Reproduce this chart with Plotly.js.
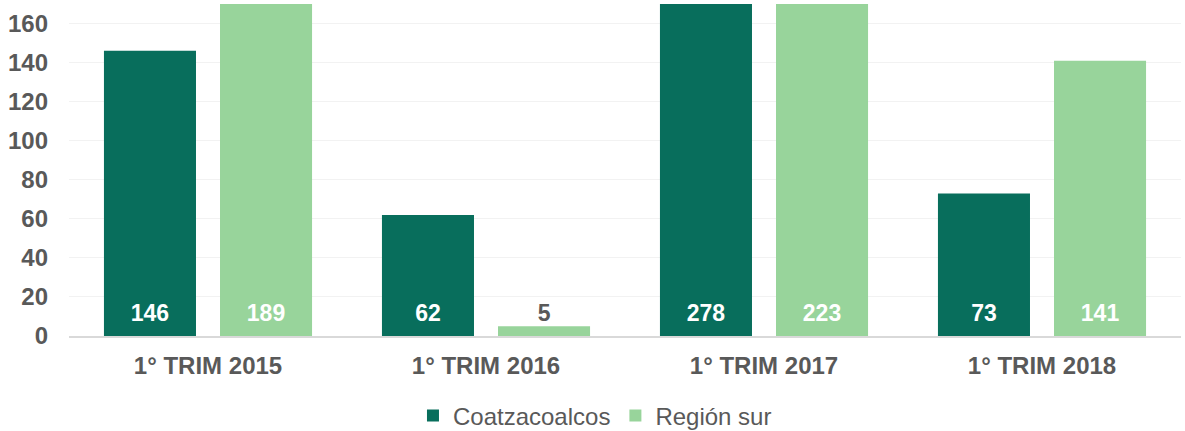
<!DOCTYPE html>
<html>
<head>
<meta charset="utf-8">
<script src="https://cdn.plot.ly/plotly-3.0.1.min.js"></script>
<style>html,body{margin:0;padding:0;background:#fff;}#chart{width:1185px;height:431px;}</style>
</head>
<body>
<div id="chart"></div>
<script>
const categories = ["1° TRIM 2015", "1° TRIM 2016", "1° TRIM 2017", "1° TRIM 2018"];
const coatzacoalcos = [146, 62, 278, 73];
const regionSur = [189, 5, 223, 141];
const yTicks = [0, 20, 40, 60, 80, 100, 120, 140, 160];

const yMax = 170;
const FONT = "Liberation Sans, Arial, sans-serif";
const DARK = "#086E5C", LIGHT = "#98D49B";

function barTrace(name, vals, color) {
  return {type: "bar", name: name, x: categories, y: vals, marker: {color: color},
          hoverinfo: "skip", offsetgroup: name, cliponaxis: true};
}
function labelTrace(name, vals) {
  return {type: "scatter", mode: "markers+text", name: name + " labels", showlegend: false,
          x: categories, y: vals.map(() => 0), offsetgroup: name,
          text: vals.map(String), textposition: "top center",
          marker: {size: 14, color: "rgba(0,0,0,0)"},
          textfont: {family: FONT, size: 23, weight: "bold",
                     color: vals.map(v => v < 20 ? "#595959" : "#FFFFFF")},
          cliponaxis: false, hoverinfo: "skip"};
}

const data = [
  barTrace("Coatzacoalcos", coatzacoalcos, DARK),
  barTrace("Región sur", regionSur, LIGHT),
  labelTrace("Coatzacoalcos", coatzacoalcos),
  labelTrace("Región sur", regionSur)
];

const layout = {
  width: 1185, height: 431,
  margin: {l: 69, r: 4, t: 4, b: 95, autoexpand: false},
  paper_bgcolor: "#FFFFFF", plot_bgcolor: "#FFFFFF",
  barmode: "group",
  bargap: 0.165,
  bargroupgap: 0.207,
  scattermode: "group",
  scattergap: 0.165,
  font: {family: FONT, color: "#595959"},
  xaxis: {
    type: "category",
    tickfont: {size: 24, color: "#595959", weight: "bold"},
    showgrid: false, showline: true, linecolor: "#D9D9D9", linewidth: 2,
    ticks: "", ticklabelstandoff: 7, automargin: false
  },
  yaxis: {
    range: [0, yMax],
    tickvals: yTicks,
    ticktext: yTicks.map(String),
    tickfont: {size: 24, color: "#595959", weight: "bold"},
    showgrid: true, gridcolor: "#F2F2F2", gridwidth: 1,
    zeroline: false, showline: false, ticks: "", ticklabelstandoff: 20, automargin: false
  },
  showlegend: true,
  legend: {
    orientation: "h", x: 0.473, xanchor: "center", y: -0.241, yanchor: "middle",
    font: {size: 24, color: "#595959"},
    traceorder: "normal", itemwidth: 30
  }
};

Plotly.newPlot("chart", data, layout, {displayModeBar: false, staticPlot: true});
</script>
</body>
</html>
